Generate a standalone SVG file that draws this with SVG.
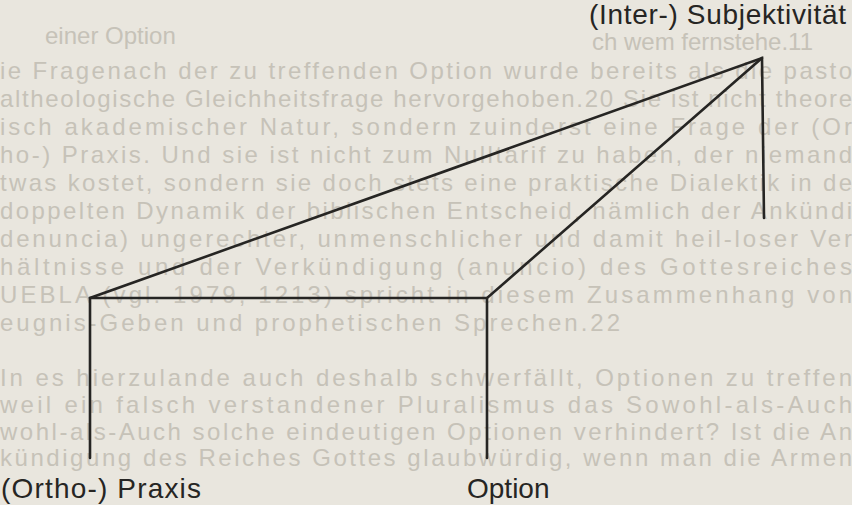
<svg xmlns="http://www.w3.org/2000/svg" width="852" height="505" viewBox="0 0 852 505">
  <style>
    .bg { fill: #e9e6de; }
    .page { font-family: "Liberation Sans", Arial, sans-serif; font-size: 24px; fill: #c6c2b8; }
    .edge { stroke: #262523; stroke-width: 2.6; fill: none; stroke-linecap: round; stroke-linejoin: miter; }
    .label { font-family: "Liberation Sans", Arial, sans-serif; font-size: 28px; fill: #262523; }
  </style>
  <rect class="bg" x="0" y="0" width="852" height="505"/>
  <g id="page-text">
    <text class="page" x="45" y="44">einer Option</text>
    <text class="page" x="592" y="50" font-size="20">ch wem fernstehe.11</text>
    <text class="page" x="0" y="79" textLength="852" lengthAdjust="spacing">ie Fragenach der zu treffenden Option wurde bereits als die pasto</text>
    <text class="page" x="0" y="107" textLength="852" lengthAdjust="spacing">altheologische Gleichheitsfrage hervorgehoben.20 Sie ist nicht theore</text>
    <text class="page" x="0" y="135" textLength="852" lengthAdjust="spacing">isch akademischer Natur, sondern zuinderst eine Frage der (Or</text>
    <text class="page" x="0" y="163" textLength="852" lengthAdjust="spacing">ho-) Praxis. Und sie ist nicht zum Nulltarif zu haben, der niemand</text>
    <text class="page" x="0" y="191" textLength="852" lengthAdjust="spacing">twas kostet, sondern sie doch stets eine praktische Dialektik in de</text>
    <text class="page" x="0" y="219" textLength="852" lengthAdjust="spacing">doppelten Dynamik der biblischen Entscheid, nämlich der Ankündi</text>
    <text class="page" x="0" y="247" textLength="852" lengthAdjust="spacing">denuncia) ungerechter, unmenschlicher und damit heil-loser Ver</text>
    <text class="page" x="0" y="275" textLength="852" lengthAdjust="spacing">hältnisse und der Verkündigung (anuncio) des Gottesreiches</text>
    <text class="page" x="0" y="303" textLength="852" lengthAdjust="spacing">UEBLA (vgl. 1979, 1213) spricht in diesem Zusammenhang von</text>
    <text class="page" x="0" y="331" textLength="620" lengthAdjust="spacing">eugnis-Geben und prophetischen Sprechen.22</text>
    <text class="page" x="0" y="386" textLength="852" lengthAdjust="spacing">In es hierzulande auch deshalb schwerfällt, Optionen zu treffen</text>
    <text class="page" x="0" y="413" textLength="852" lengthAdjust="spacing">weil ein falsch verstandener Pluralismus das Sowohl-als-Auch</text>
    <text class="page" x="0" y="440" textLength="852" lengthAdjust="spacing">wohl-als-Auch solche eindeutigen Optionen verhindert? Ist die An</text>
    <text class="page" x="0" y="466" textLength="852" lengthAdjust="spacing">kündigung des Reiches Gottes glaubwürdig, wenn man die Armen</text>
  </g>
  <g id="connectors">
    <polyline class="edge" points="90,458 90,298 762,58 764,218"/>
    <line class="edge" x1="90" y1="298" x2="487" y2="298"/>
    <polyline class="edge" points="762,58 487,298 487,458"/>
  </g>
  <g id="node-subjektivitaet">
    <text class="label" x="589" y="24" textLength="257" lengthAdjust="spacing">(Inter-)  Subjektivität</text>
  </g>
  <g id="node-praxis">
    <text class="label" x="1" y="498" textLength="200" lengthAdjust="spacing">(Ortho-)  Praxis</text>
  </g>
  <g id="node-option">
    <text class="label" x="467" y="498">Option</text>
  </g>
</svg>
